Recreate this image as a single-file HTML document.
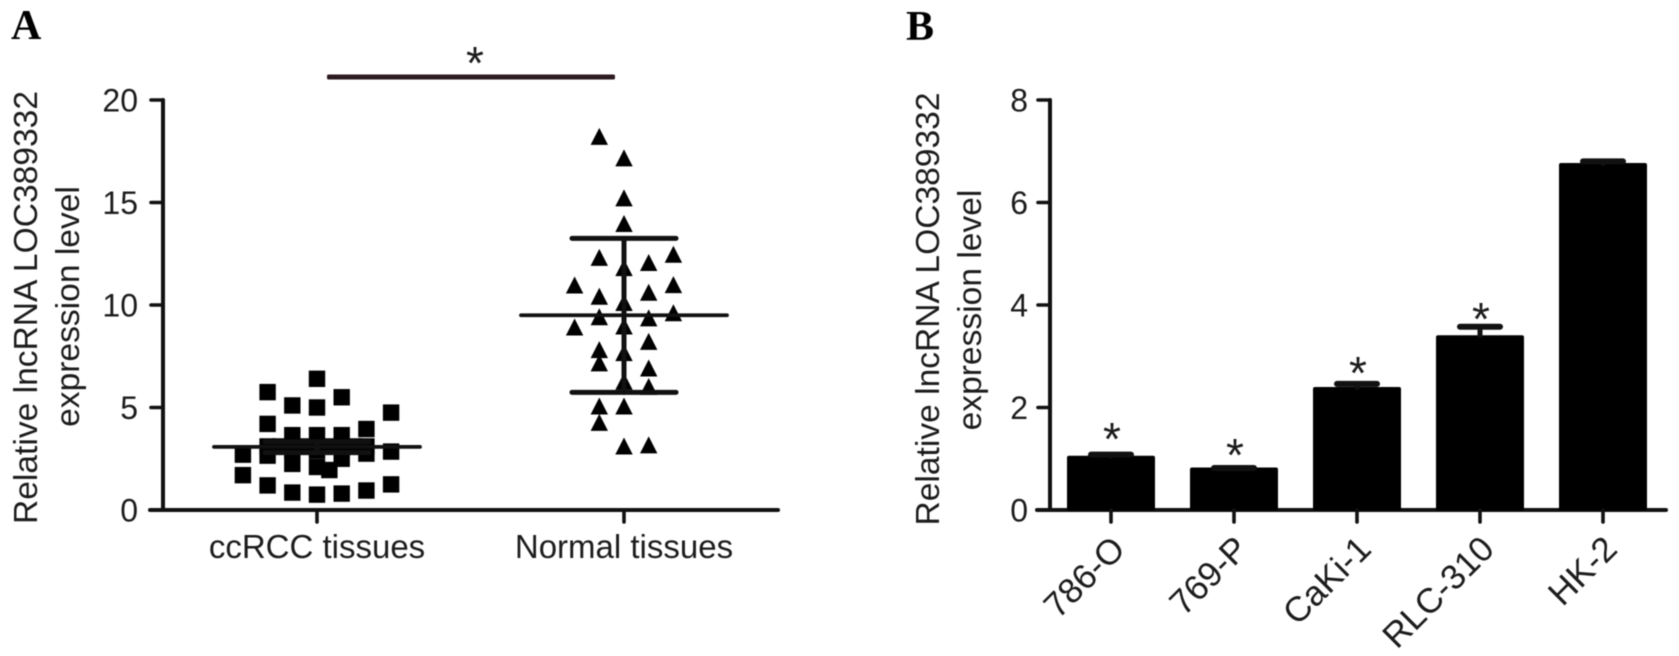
<!DOCTYPE html>
<html>
<head>
<meta charset="utf-8">
<title>lncRNA LOC389332 expression</title>
<style>
html,body{margin:0;padding:0;background:#fff;width:1679px;height:656px;overflow:hidden}
svg{display:block;filter:blur(0.45px)}
text{font-family:"Liberation Sans",sans-serif;fill:#1c1c1c}
.panel{font-family:"Liberation Serif",serif;font-weight:bold;font-size:42px;fill:#000}
.title{font-size:33.6px;text-anchor:middle}
.tick{font-size:32px;text-anchor:end}
.cat{font-size:33px;text-anchor:middle}
.star{font-size:46px;text-anchor:middle}
</style>
</head>
<body>
<svg id="chart" xmlns="http://www.w3.org/2000/svg" width="1679" height="656" viewBox="0 0 1679 656">
  <rect x="0" y="0" width="1679" height="656" fill="#fff"/>
  <text class="panel" x="11" y="39">A</text>
  <text class="panel" x="906" y="40">B</text>
  <text class="title" transform="translate(37,307.5) rotate(-90)">Relative lncRNA LOC389332</text>
  <text class="title" transform="translate(79,306.5) rotate(-90)">expression level</text>
  <text class="title" transform="translate(939,309) rotate(-90)">Relative lncRNA LOC389332</text>
  <text class="title" transform="translate(981,310) rotate(-90)">expression level</text>
  <rect x="327" y="74.5" width="288" height="5" rx="1.5" fill="#2e1a22"/>
  <text class="star" x="475" y="79">*</text>
  <g id="panel-a"></g>
  <g id="panel-b"></g>
</svg>
<script>
// Panel A data
const scatterCategories = ["ccRCC tissues", "Normal tissues"];
const scatterTicks = [0, 5, 10, 15, 20];
const ccrccValues = [2.7, 1.7, 5.75, 4.2, 2.65, 3.1, 1.2, 5.1, 3.65, 2.9, 2.25, 0.85, 6.4, 5.0, 3.65, 2.9, 2.1, 0.75, 5.5, 3.65, 3.0, 2.5, 0.8, 3.95, 3.1, 2.75, 0.95, 4.75, 2.85, 1.25, 1.95, 3.1, 3.1, 3.1, 3.1];
const ccrccColumns = [-3, -3, -2, -2, -2, -2, -2, -1, -1, -1, -1, -1, 0, 0, 0, 0, 0, 0, 1, 1, 1, 1, 1, 2, 2, 2, 2, 3, 3, 3, 0.5, -1.5, -0.5, 0.5, 1.5];
const normalValues = [18.2, 17.15, 15.2, 13.95, 12.3, 11.8, 12.05, 12.45, 10.95, 10.97, 10.6, 10.4, 10.1, 9.4, 9.35, 9.6, 8.9, 8.95, 8.2, 7.8, 7.15, 7.65, 6.9, 6.25, 6.0, 5.05, 5.05, 4.25, 3.1, 3.15];
const normalColumns = [-1, 0, 0, 0, -1, 0, 1, 2, -2, 2, 1, -1, 0, -1, 1, 2, -2, 0, 1, -1, -1, 0, 1, 0, 1, -1, 0, -1, 0, 1];
const scatterMeans = [3.08, 9.5];
const scatterUpper = [3.33, 13.25];
const scatterLower = [2.8, 5.74];

// Panel B data
const barCategories = ["786-O", "769-P", "CaKi-1", "RLC-310", "HK-2"];
const barTicks = [0, 2, 4, 6, 8];
const barValues = [1.05, 0.82, 2.39, 3.4, 6.76];
const barErrorTops = [1.138, 0.878, 2.52, 3.635, 6.86];
const barStarLevels = [1.5, 1.19, 2.79, 3.84, null];

// Axis functions
const yA = v => 510 - v * 20.5;
const yB = v => 510 - v * 51.25;
const xA = i => 317 + i * 307;
const xB = i => 1111 + i * 123;
const SLOT = 24.7;
const NS = "http://www.w3.org/2000/svg";

function make(tag, parent, attrs, content) {
  const el = document.createElementNS(NS, tag);
  for (const k in attrs) el.setAttribute(k, attrs[k]);
  if (content !== undefined) el.textContent = content;
  parent.appendChild(el);
  return el;
}
function rule(parent, x1, y1, x2, y2, w) {
  return make("line", parent, {x1: x1, y1: y1, x2: x2, y2: y2, stroke: "#111", "stroke-width": w, "stroke-linecap": "round"});
}

const gA = document.getElementById("panel-a");
const gB = document.getElementById("panel-b");
let el;

// Panel A axes
el = rule(gA, 163, yA(20), 163, yA(0), 4);


el = rule(gA, 150, yA(0), 778, yA(0), 4);


scatterTicks.forEach(t => {
  let m = rule(gA, 151, yA(t), 163, yA(t), 3.6);
  
  
  let l = make("text", gA, {class: "tick", x: 138, y: yA(t) + 11.5}, String(t));
  
  
});
scatterCategories.forEach((c, i) => {
  let m = rule(gA, xA(i), yA(0), xA(i), 522, 3.6);
  
  
  let l = make("text", gA, {class: "cat", x: xA(i), y: 558}, c);
  
  
});

// Panel A points
ccrccValues.forEach((v, i) => {
  const cx = xA(0) + ccrccColumns[i] * SLOT;
  let p = make("rect", gA, {x: cx - 8.2, y: yA(v) - 8.2, width: 16.4, height: 16.4, fill: "#000"});
  
  
});
normalValues.forEach((v, i) => {
  const cx = xA(1) + normalColumns[i] * SLOT;
  const cy = yA(v);
  let p = make("polygon", gA, {points: (cx) + "," + (cy - 9) + " " + (cx + 8.7) + "," + (cy + 8) + " " + (cx - 8.7) + "," + (cy + 8), fill: "#000"});
  
  
});

// Panel A mean and SD
scatterMeans.forEach((mean, i) => {
  const cx = xA(i);
  let m = rule(gA, cx - 103, yA(mean), cx + 103, yA(mean), 3.8);
  
  
  let s = rule(gA, cx, yA(scatterUpper[i]), cx, yA(scatterLower[i]), 5);
  
  
  let u = rule(gA, cx - 52, yA(scatterUpper[i]), cx + 52, yA(scatterUpper[i]), 5);
  
  
  let d = rule(gA, cx - 52, yA(scatterLower[i]), cx + 52, yA(scatterLower[i]), 5);
  
  
});

// Panel B axes
el = rule(gB, 1050, yB(8), 1050, yB(0), 4);


el = rule(gB, 1037, yB(0), 1666, yB(0), 4);


barTicks.forEach(t => {
  let m = rule(gB, 1038, yB(t), 1050, yB(t), 3.6);
  
  
  let l = make("text", gB, {class: "tick", x: 1028, y: yB(t) + 11.5}, String(t));
  
  
});

// Panel B bars
barCategories.forEach((c, i) => {
  const cx = xB(i);
  let b = make("rect", gB, {x: cx - 43.5, y: yB(barValues[i]), width: 87, height: yB(0) - yB(barValues[i]), rx: 1.5, fill: "#000", stroke: "#000", "stroke-width": 1});
  
  
  let s = rule(gB, cx, yB(barValues[i]), cx, yB(barErrorTops[i]) + 3, 5);
  
  
  let e = rule(gB, cx - 20, yB(barErrorTops[i]) + 3, cx + 20, yB(barErrorTops[i]) + 3, 6);
  
  
  if (barStarLevels[i] !== null) {
    let st = make("text", gB, {class: "star", x: cx + 1, y: yB(barStarLevels[i]) + 22}, "*");
    
    
  }
  let m = rule(gB, cx, yB(0), cx, 522, 3.6);
  
  
  let l = make("text", gB, {x: 0, y: 0, "font-size": 35, "text-anchor": "end", transform: "translate(" + (cx + 16) + ",551) rotate(-45)"}, c);
  
  
});
</script>
</body>
</html>
